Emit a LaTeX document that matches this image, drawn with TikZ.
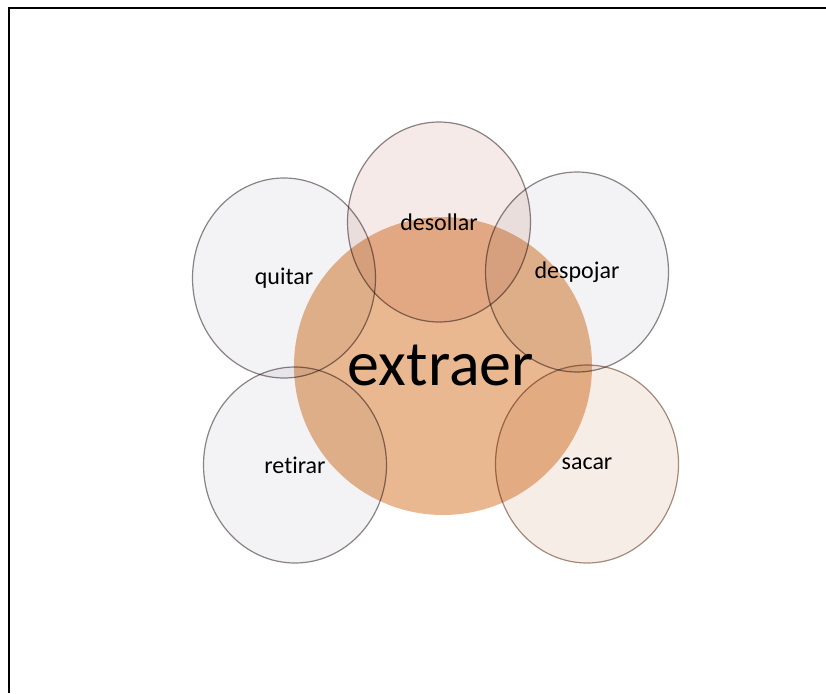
\documentclass[tikz,border=0pt]{standalone}
\usepackage{fontspec}
\setmainfont[Ligatures=NoCommon]{Carlito}
\usepackage{xcolor}
\usepackage{tikz}
\usetikzlibrary{shapes.geometric}
\definecolor{frame}{HTML}{000000}
\definecolor{peach}{HTML}{EAB890}
\definecolor{rim}{HTML}{8E8688}
\definecolor{rimwarm}{HTML}{A89080}
\definecolor{glass}{HTML}{F3F2F4}
\definecolor{glasspink}{HTML}{F6EAE8}
\definecolor{glasswarm}{HTML}{F7EDE7}
\tikzset{
  bigdisc/.style={circle, fill=peach, minimum size=298pt, inner sep=0pt},
  bubble/.style={ellipse, fill=glass, draw=rim, line width=1.2pt,
    minimum width=183pt, minimum height=200pt, inner sep=0pt,
    blend mode=multiply, font=\fontsize{24}{28}\selectfont},
  edge/.style={draw=frame, line width=1.2pt},
}
\begin{document}
\begin{tikzpicture}[x=1pt, y=-1pt]
  \useasboundingbox (0,0) rectangle (826,693);
  % frame, cut on the right and at the bottom
  \coordinate (low) at (9,693);
  \coordinate (corner) at (9,8);
  \coordinate (far) at (826,8);
  \draw[edge] (low) -- (corner) -- (far);
  % centre disc
  \node[bigdisc] (extraer) at (443,366) {};
  % bubbles round it
  \node[bubble] (quitar) at (284,278) {quitar};
  \node[bubble, fill=glasspink] (desollar) at (439,222) {desollar};
  \node[bubble] (despojar) at (577,272) {despojar};
  \node[bubble, minimum height=196pt] (retirar) at (295,465) {retirar};
  \node[bubble, fill=glasswarm, draw=rimwarm, minimum height=198pt] (sacar) at (587,464) {sacar};
  \node[font=\fontsize{64}{70}\selectfont] (word) at (441,365) {extraer};
\end{tikzpicture}
\end{document}
